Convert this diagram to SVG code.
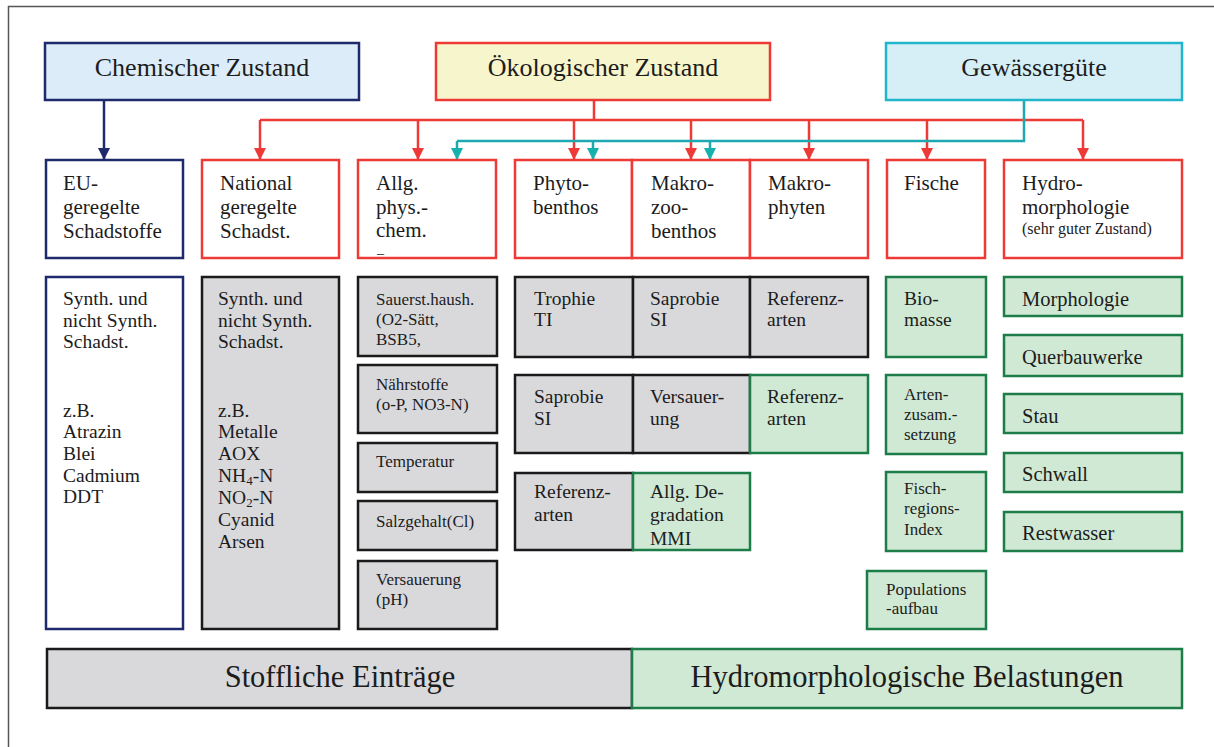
<svg xmlns="http://www.w3.org/2000/svg" width="1214" height="747" viewBox="0 0 1214 747">
<style>
text{font-family:"Liberation Serif","Times New Roman",serif;fill:#1c1c1c}
.t26{font-size:26px;text-anchor:middle}
.t21{font-size:21px}
.t20{font-size:20.5px}
.t19{font-size:19.5px}
.t17{font-size:17px}
.t16{font-size:16px}
.t14{font-size:14px}
.t30{font-size:30.5px;text-anchor:middle}
.navy{fill:#fff;stroke:#1f2a6c;stroke-width:2.5}
.red{fill:#fff;stroke:#ee3a36;stroke-width:2.5}
.gray{fill:#d9d9dc;stroke:#1a1a1a;stroke-width:2.5}
.green{fill:#d0e9d4;stroke:#1d7d48;stroke-width:2.5}
.cr{fill:none;stroke:#ee3a36;stroke-width:2.5}
.ct{fill:none;stroke:#1ea9b0;stroke-width:2.5}
.cn{fill:none;stroke:#1f2a6c;stroke-width:2.5}
</style>
<defs>
<marker id="arR" viewBox="0 0 12 12" refX="12" refY="6" markerWidth="12" markerHeight="12" markerUnits="userSpaceOnUse" orient="auto"><path d="M0,0 L12,6 L0,12 z" fill="#ee3a36"/></marker>
<marker id="arT" viewBox="0 0 12 12" refX="12" refY="6" markerWidth="12" markerHeight="12" markerUnits="userSpaceOnUse" orient="auto"><path d="M0,0 L12,6 L0,12 z" fill="#16b0ad"/></marker>
<marker id="arN" viewBox="0 0 12 12" refX="12" refY="6" markerWidth="12" markerHeight="12" markerUnits="userSpaceOnUse" orient="auto"><path d="M0,0 L12,6 L0,12 z" fill="#1f2a6c"/></marker>
</defs>
<rect width="1214" height="747" fill="#fff"/>
<path d="M8.5,747 V6.5 H1214" fill="none" stroke="#555" stroke-width="1.5"/>

<g id="connectors">
<path class="cn" d="M104,100 V160" marker-end="url(#arN)"/>
<path class="cr" d="M594,100 V120 M260,120 H1083"/>
<path class="cr" d="M260,120 V160" marker-end="url(#arR)"/>
<path class="cr" d="M418,120 V160" marker-end="url(#arR)"/>
<path class="cr" d="M574,120 V160" marker-end="url(#arR)"/>
<path class="cr" d="M691,120 V160" marker-end="url(#arR)"/>
<path class="cr" d="M809,120 V160" marker-end="url(#arR)"/>
<path class="cr" d="M927,120 V160" marker-end="url(#arR)"/>
<path class="cr" d="M1083,120 V160" marker-end="url(#arR)"/>
<path class="ct" d="M1024,100 V141 H457"/>
<path class="ct" d="M457,141 V160" marker-end="url(#arT)"/>
<path class="ct" d="M593,141 V160" marker-end="url(#arT)"/>
<path class="ct" d="M710,141 V160" marker-end="url(#arT)"/>
</g>

<g id="chemischer-zustand">
<rect x="45" y="43" width="314" height="57" fill="#dcecf8" stroke="#1f2a6c" stroke-width="2.5"/>
<text class="t26" x="202" y="76">Chemischer Zustand</text>
</g>
<g id="oekologischer-zustand">
<rect x="436" y="43" width="334" height="57" fill="#f7f5cc" stroke="#ee3a36" stroke-width="2.5"/>
<text class="t26" x="603" y="76">Ökologischer Zustand</text>
</g>
<g id="gewaesserguete">
<rect x="886" y="43" width="296" height="57" fill="#d6eef6" stroke="#22b6cc" stroke-width="2.5"/>
<text class="t26" x="1034" y="76">Gewässergüte</text>
</g>

<g id="eu-geregelte">
<rect class="navy" x="46" y="160" width="137" height="98"/>
<text class="t21" x="63" y="190">EU-</text>
<text class="t21" x="63" y="214">geregelte</text>
<text class="t21" x="63" y="238">Schadstoffe</text>
</g>
<g id="national-geregelte">
<rect class="red" x="202" y="160" width="137" height="98"/>
<text class="t21" x="220" y="190">National</text>
<text class="t21" x="220" y="214">geregelte</text>
<text class="t21" x="220" y="238">Schadst.</text>
</g>
<g id="allg-phys-chem">
<rect class="red" x="358" y="160" width="138" height="98"/>
<text class="t21" x="376" y="190">Allg.</text>
<text class="t21" x="376" y="214">phys.-</text>
<text class="t21" x="376" y="237">chem.</text>
<text class="t14" x="377" y="258">–</text>
</g>
<g id="phytobenthos">
<rect class="red" x="515" y="160" width="117" height="98"/>
<text class="t21" x="533" y="190">Phyto-</text>
<text class="t21" x="533" y="214">benthos</text>
</g>
<g id="makrozoobenthos">
<rect class="red" x="632" y="160" width="118" height="98"/>
<text class="t21" x="651" y="190">Makro-</text>
<text class="t21" x="651" y="214">zoo-</text>
<text class="t21" x="651" y="238">benthos</text>
</g>
<g id="makrophyten">
<rect class="red" x="750" y="160" width="118" height="98"/>
<text class="t21" x="768" y="190">Makro-</text>
<text class="t21" x="768" y="214">phyten</text>
</g>
<g id="fische">
<rect class="red" x="887" y="160" width="98" height="98"/>
<text class="t21" x="904" y="190">Fische</text>
</g>
<g id="hydromorphologie">
<rect class="red" x="1004" y="160" width="178" height="98"/>
<text class="t21" x="1022" y="190">Hydro-</text>
<text class="t21" x="1022" y="214">morphologie</text>
<text class="t16" x="1022" y="234">(sehr guter Zustand)</text>
</g>

<g id="eu-schadstoffe">
<rect class="navy" x="46" y="277" width="137" height="352"/>
<text class="t19" x="63" y="305">Synth. und</text>
<text class="t19" x="63" y="327">nicht Synth.</text>
<text class="t19" x="63" y="348">Schadst.</text>
<text class="t19" x="63" y="417">z.B.</text>
<text class="t19" x="63" y="438">Atrazin</text>
<text class="t19" x="63" y="460">Blei</text>
<text class="t19" x="63" y="482">Cadmium</text>
<text class="t19" x="63" y="503">DDT</text>
</g>
<g id="national-schadstoffe">
<rect class="gray" x="202" y="277" width="137" height="352"/>
<text class="t19" x="218" y="305">Synth. und</text>
<text class="t19" x="218" y="327">nicht Synth.</text>
<text class="t19" x="218" y="348">Schadst.</text>
<text class="t19" x="218" y="417">z.B.</text>
<text class="t19" x="218" y="438">Metalle</text>
<text class="t19" x="218" y="460">AOX</text>
<text class="t19" x="218" y="482">NH<tspan font-size="13" dy="3">4</tspan><tspan dy="-3">-N</tspan></text>
<text class="t19" x="218" y="504">NO<tspan font-size="13" dy="3">2</tspan><tspan dy="-3">-N</tspan></text>
<text class="t19" x="218" y="526">Cyanid</text>
<text class="t19" x="218" y="548">Arsen</text>
</g>

<g id="sauerstoffhaushalt">
<rect class="gray" x="358" y="277" width="139" height="79"/>
<text class="t17" x="376" y="305">Sauerst.haush.</text>
<text class="t17" x="376" y="325">(O2-Sätt,</text>
<text class="t17" x="376" y="345">BSB5,</text>
</g>
<g id="naehrstoffe">
<rect class="gray" x="358" y="365" width="139" height="68"/>
<text class="t17" x="376" y="390">Nährstoffe</text>
<text class="t17" x="376" y="410">(o-P, NO3-N)</text>
</g>
<g id="temperatur">
<rect class="gray" x="358" y="443" width="139" height="49"/>
<text class="t17" x="376" y="467">Temperatur</text>
</g>
<g id="salzgehalt">
<rect class="gray" x="358" y="501" width="139" height="49"/>
<text class="t17" x="376" y="527">Salzgehalt(Cl)</text>
</g>
<g id="versauerung-ph">
<rect class="gray" x="358" y="561" width="139" height="68"/>
<text class="t17" x="376" y="585">Versauerung</text>
<text class="t17" x="376" y="605">(pH)</text>
</g>

<g id="trophie">
<rect class="gray" x="515" y="277" width="118" height="80"/>
<text class="t19" x="534" y="305">Trophie</text>
<text class="t19" x="534" y="326">TI</text>
</g>
<g id="saprobie-mzb">
<rect class="gray" x="633" y="277" width="117" height="80"/>
<text class="t19" x="650" y="305">Saprobie</text>
<text class="t19" x="650" y="326">SI</text>
</g>
<g id="referenzarten-mp">
<rect class="gray" x="750" y="277" width="118" height="80"/>
<text class="t19" x="767" y="305">Referenz-</text>
<text class="t19" x="767" y="326">arten</text>
</g>
<g id="saprobie-pb">
<rect class="gray" x="515" y="375" width="118" height="78"/>
<text class="t19" x="534" y="403">Saprobie</text>
<text class="t19" x="534" y="425">SI</text>
</g>
<g id="versauerung-mzb">
<rect class="gray" x="633" y="375" width="117" height="78"/>
<text class="t19" x="650" y="403">Versauer-</text>
<text class="t19" x="650" y="425">ung</text>
</g>
<g id="referenzarten-mp2">
<rect class="green" x="750" y="375" width="118" height="78"/>
<text class="t19" x="767" y="403">Referenz-</text>
<text class="t19" x="767" y="425">arten</text>
</g>
<g id="referenzarten-pb">
<rect class="gray" x="515" y="473" width="118" height="77"/>
<text class="t19" x="534" y="498">Referenz-</text>
<text class="t19" x="534" y="521">arten</text>
</g>
<g id="degradation-mmi">
<rect class="green" x="633" y="473" width="117" height="77"/>
<text class="t19" x="650" y="498">Allg. De-</text>
<text class="t19" x="650" y="521">gradation</text>
<text class="t19" x="650" y="545">MMI</text>
</g>

<g id="biomasse">
<rect class="green" x="886" y="277" width="100" height="80"/>
<text class="t19" x="904" y="305">Bio-</text>
<text class="t19" x="904" y="326">masse</text>
</g>
<g id="artenzusammensetzung">
<rect class="green" x="886" y="375" width="100" height="79"/>
<text class="t17" x="904" y="400">Arten-</text>
<text class="t17" x="904" y="420">zusam.-</text>
<text class="t17" x="904" y="440">setzung</text>
</g>
<g id="fischregionsindex">
<rect class="green" x="886" y="472" width="100" height="79"/>
<text class="t17" x="904" y="494">Fisch-</text>
<text class="t17" x="904" y="514">regions-</text>
<text class="t17" x="904" y="535">Index</text>
</g>
<g id="populationsaufbau">
<rect class="green" x="867" y="571" width="119" height="58"/>
<text class="t17" x="886" y="595">Populations</text>
<text class="t17" x="886" y="614">-aufbau</text>
</g>

<g id="morphologie">
<rect class="green" x="1004" y="277" width="178" height="39"/>
<text class="t20" x="1022" y="306">Morphologie</text>
</g>
<g id="querbauwerke">
<rect class="green" x="1004" y="335" width="178" height="41"/>
<text class="t20" x="1022" y="364">Querbauwerke</text>
</g>
<g id="stau">
<rect class="green" x="1004" y="394" width="178" height="39"/>
<text class="t20" x="1022" y="423">Stau</text>
</g>
<g id="schwall">
<rect class="green" x="1004" y="453" width="178" height="39"/>
<text class="t20" x="1022" y="481">Schwall</text>
</g>
<g id="restwasser">
<rect class="green" x="1004" y="512" width="178" height="39"/>
<text class="t20" x="1022" y="540">Restwasser</text>
</g>

<g id="stoffliche-eintraege">
<rect class="gray" x="47" y="649" width="585" height="59"/>
<text class="t30" x="340" y="687">Stoffliche Einträge</text>
</g>
<g id="hydromorphologische-belastungen">
<rect class="green" x="632" y="649" width="550" height="59"/>
<text class="t30" x="907" y="687">Hydromorphologische Belastungen</text>
</g>
</svg>
